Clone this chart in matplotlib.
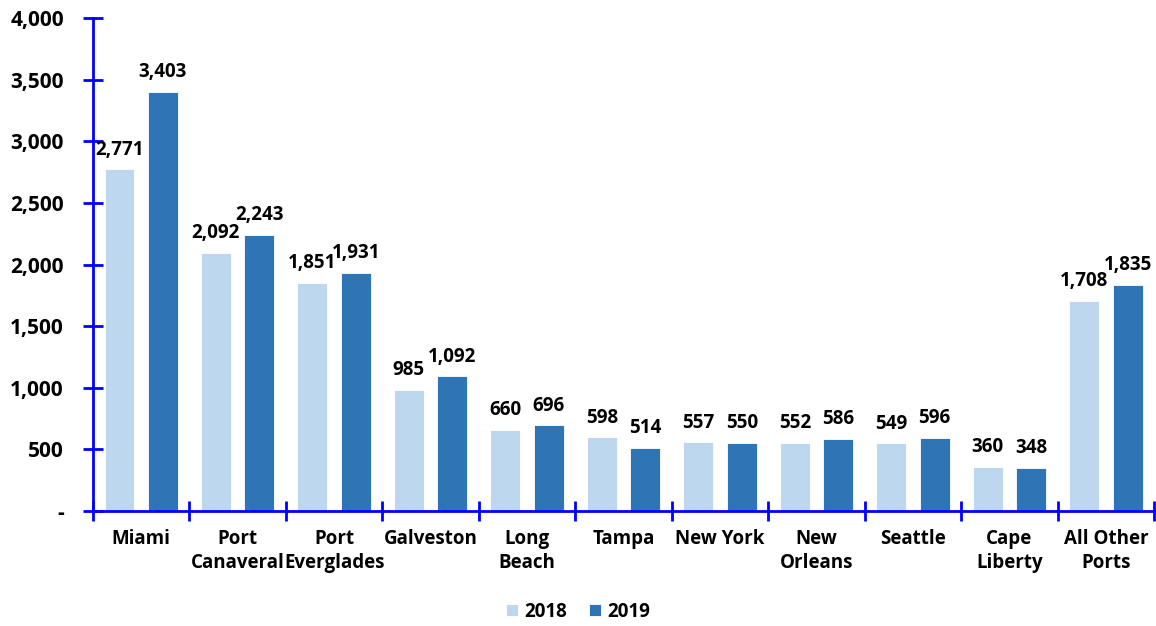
import matplotlib
matplotlib.use("Agg")
import matplotlib.pyplot as plt
import numpy as np
from matplotlib.ticker import FuncFormatter

categories = ["Miami", "Port\nCanaveral", "Port\nEverglades", "Galveston", "Long\nBeach",
              "Tampa", "New York", "New\nOrleans", "Seattle", "Cape\nLiberty", "All Other\nPorts"]
vals_2018 = [2771, 2092, 1851, 985, 660, 598, 557, 552, 549, 360, 1708]
vals_2019 = [3403, 2243, 1931, 1092, 696, 514, 550, 586, 596, 348, 1835]
yticks = [0, 500, 1000, 1500, 2000, 2500, 3000, 3500, 4000]

plt.rcParams['font.family'] = ['Open Sans', 'DejaVu Sans']
plt.rcParams['font.weight'] = 'bold'

fig = plt.figure(figsize=(11.56, 6.26), dpi=100)
ax = fig.add_axes([0.0804, 0.1837, 0.918, 0.7875])

x = np.arange(len(categories))
w = 0.31
off = 0.225
c18 = "#bdd7ee"
c19 = "#2e75b6"
b1 = ax.bar(x - off, vals_2018, w, color=c18, label="2018", edgecolor="white", linewidth=0.6)
b2 = ax.bar(x + off, vals_2019, w, color=c19, label="2019", edgecolor="white", linewidth=0.6)

for xi, v in zip(x - off, vals_2018):
    ax.annotate(f"{v:,}", (xi, v), xytext=(0, 7), textcoords="offset points",
                ha="center", va="bottom", fontsize=13.5, fontweight="bold")
for xi, v in zip(x + off, vals_2019):
    ax.annotate(f"{v:,}", (xi, v), xytext=(0, 7), textcoords="offset points",
                ha="center", va="bottom", fontsize=13.5, fontweight="bold")

ax.set_xlim(-0.5, len(categories) - 0.5)
ax.set_ylim(0, 4000)
ax.set_yticks(yticks)
ax.yaxis.set_major_formatter(FuncFormatter(lambda v, p: "-" if v == 0 else f"{int(v):,}"))

ax.set_xticks(x)
ax.set_xticklabels(categories, fontsize=13.5, fontweight="bold", linespacing=1.25)
ax.set_xticks(np.arange(-0.5, len(categories)), minor=True)
ax.tick_params(axis="x", which="major", length=0, pad=13)
ax.tick_params(axis="x", which="minor", length=14, direction="inout", width=2, color="#0000ff")
ax.tick_params(axis="y", length=14, direction="inout", width=2, color="#0000ff",
               labelsize=15, pad=14)
for lbl in ax.get_yticklabels():
    lbl.set_fontweight("bold")

for s in ["top", "right"]:
    ax.spines[s].set_visible(False)
for s in ["left", "bottom"]:
    ax.spines[s].set_color("#0000ff")
    ax.spines[s].set_linewidth(2)

leg = fig.legend(handles=[b1, b2], labels=["2018", "2019"], loc="lower center",
                 bbox_to_anchor=(0.5, -0.02), ncol=2, frameon=False,
                 prop={"weight": "bold", "size": 13.5}, handlelength=0.65, handleheight=0.65,
                 handletextpad=0.3, columnspacing=1.2)

fig.savefig("out.png", dpi=100)
